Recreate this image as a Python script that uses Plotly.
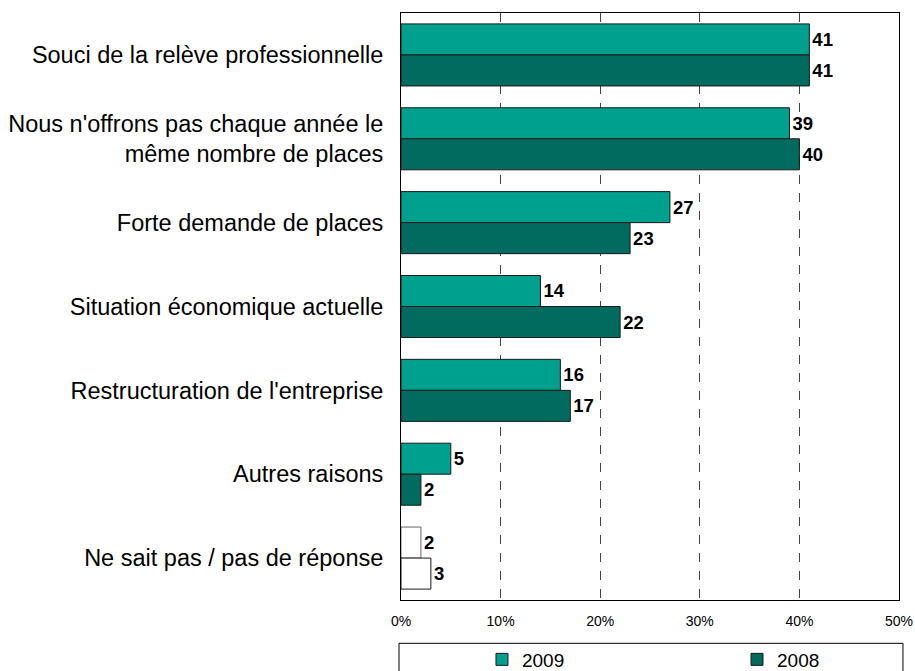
import plotly.graph_objects as go

categories = [
    "Souci de la relève professionnelle",
    "Nous n'offrons pas chaque année le<br>même nombre de places",
    "Forte demande de places",
    "Situation économique actuelle",
    "Restructuration de l'entreprise",
    "Autres raisons",
    "Ne sait pas / pas de réponse",
]
values_2009 = [41, 39, 27, 14, 16, 5, 2]
values_2008 = [41, 40, 23, 22, 17, 2, 3]
x_ticks = [0, 10, 20, 30, 40, 50]
x_tick_labels = ["0%", "10%", "20%", "30%", "40%", "50%"]

C2009 = "#00A08E"
C2008 = "#006B5E"
FONT = "Liberation Sans, Arial, sans-serif"

def fills(base):
    return [base] * (len(categories) - 1) + ["#FFFFFF"]

fig = go.Figure()
fig.add_trace(go.Bar(
    name="2009", y=categories, x=values_2009, orientation="h",
    marker=dict(color=fills(C2009),
                line=dict(color=["#1a1a1a"] * 6 + ["#666666"], width=1)),
    text=values_2009, textposition="outside", cliponaxis=False,
    textfont=dict(family=FONT, size=18.5, color="#000000", weight="bold"),
    legend="legend",
))
fig.add_trace(go.Bar(
    name="2008", y=categories, x=values_2008, orientation="h",
    marker=dict(color=fills(C2008),
                line=dict(color=["#1a1a1a"] * 7, width=1)),
    text=values_2008, textposition="outside", cliponaxis=False,
    textfont=dict(family=FONT, size=18.5, color="#000000", weight="bold"),
    legend="legend2",
))

# legend frame
fig.add_shape(type="rect", xref="paper", yref="paper",
              x0=-0.004, x1=1.008, y0=-0.13, y1=-0.0738,
              line=dict(color="#000000", width=1), fillcolor="rgba(0,0,0,0)")

leg_common = dict(orientation="h", xanchor="left", yanchor="middle", y=-0.1014,
                  font=dict(size=19, family=FONT, color="#000000"), itemwidth=30,
                  bgcolor="rgba(0,0,0,0)", borderwidth=0)

fig.update_layout(
    width=915, height=671,
    margin=dict(l=401, r=16, t=13, b=71, autoexpand=False),
    paper_bgcolor="white", plot_bgcolor="white",
    barmode="group", bargap=0.26, bargroupgap=0,
    font=dict(family=FONT, color="#000000"),
    showlegend=True,
    legend=dict(x=0.1626, **leg_common),
    legend2=dict(x=0.6747, **leg_common),
    xaxis=dict(range=[0, 50], tickmode="array", tickvals=x_ticks, ticktext=x_tick_labels,
               showgrid=True, gridcolor="#444444", griddash="dash", gridwidth=1,
               showline=True, linecolor="#000000", linewidth=1, mirror=True,
               zeroline=False, ticks="", tickfont=dict(size=14, family=FONT, color="#000000"),
               ticklabelstandoff=8, automargin=False),
    yaxis=dict(autorange="reversed", showline=True, linecolor="#000000",
               linewidth=1, mirror=True, ticks="", showgrid=False, automargin=False,
               tickfont=dict(size=23.5, family=FONT, color="#000000"), ticklabelstandoff=12),
)

fig.write_html("out.html", config={"displayModeBar": False},
               post_script="document.body.style.margin='0';")
